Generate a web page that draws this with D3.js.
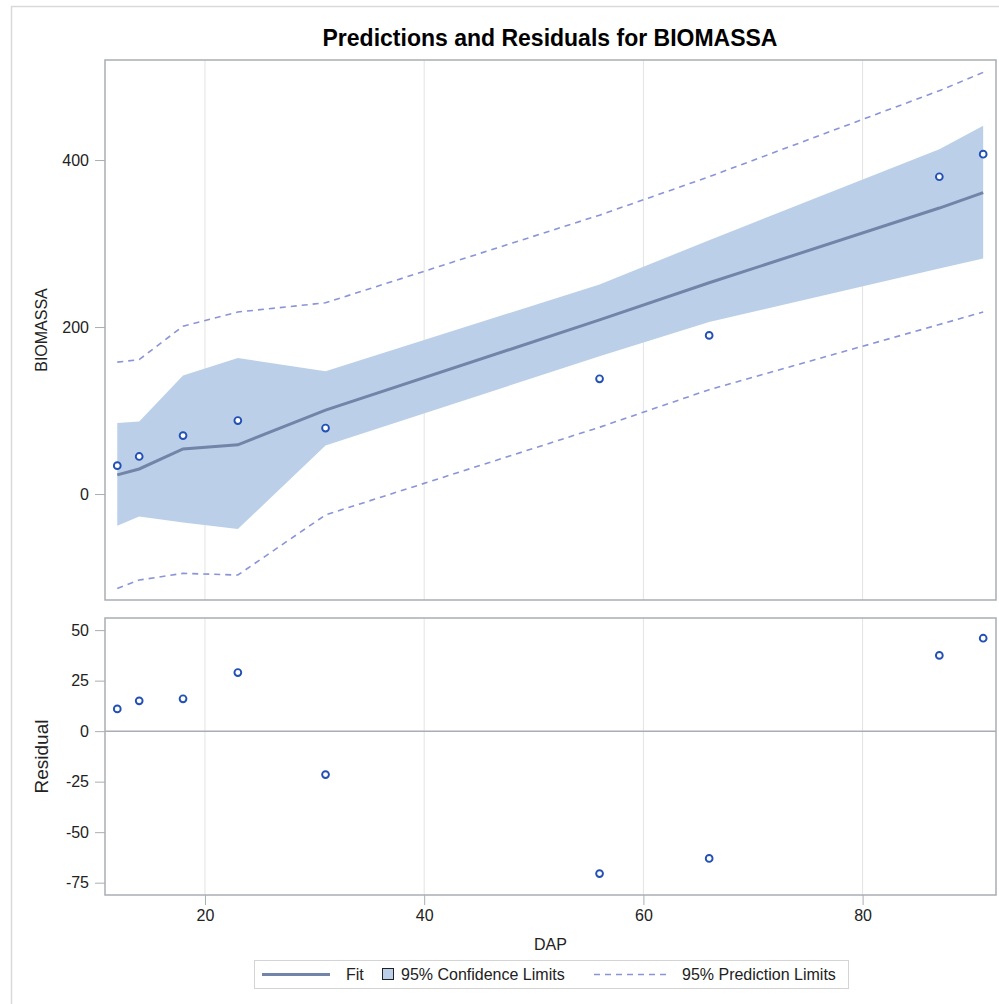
<!DOCTYPE html>
<html>
<head>
<meta charset="utf-8">
<script src="https://cdn.jsdelivr.net/npm/d3@7"></script>
<style type="text/css">
body { margin: 0; background: #fff; }
svg { font-family: "Liberation Sans", Arial, sans-serif; }
.axis path, .axis line { stroke: #a9aeb3; }
.axis text { fill: #222; font-size: 16px; }
.grid line { stroke: #e3e3e3; stroke-width: 1; }
.band { fill: #bbd0e8; stroke: none; }
.fitline { fill: none; stroke: #7384a9; stroke-width: 3; }
.plim { fill: none; stroke: #8a94d8; stroke-width: 1.6; stroke-dasharray: 6 5; }
.dot { fill: #fff; stroke: #2350b4; stroke-width: 1.9; }
.frame { fill: none; stroke: #a9aeb3; stroke-width: 1.5; }
.lbl { fill: #222; font-size: 16px; }
</style>
</head>
<body>
<script>
var dap      = [12, 14, 18, 23, 31, 56, 66, 87, 91];
var biomassa = [34, 45, 70, 88, 79, 138, 190, 380, 407];
var residual = [11, 15, 16, 29, -21.5, -70.5, -63, 37.5, 46];
var fit      = [23, 30, 54, 59, 100.5, 208.5, 253, 342.5, 361];
// 95% confidence limits (mean)
var lclm = [-38, -27, -34, -42, 58, 165, 206, 270, 282];
var uclm = [85, 87, 142, 163, 147, 251, 304, 413, 441];
// 95% prediction limits
var lcl = [-113, -103, -95, -97, -25, 80, 125, 203, 218];
var ucl = [158, 161, 201, 218, 229, 334, 380, 483, 505];

var xTicks = [20, 40, 60, 80];
var yTicks = [0, 200, 400];
var rTicks = [-75, -50, -25, 0, 25, 50];

var W = 999, H = 1004;
var left = 105, right = 996;
var top1 = 60, bot1 = 600;
var top2 = 618, bot2 = 895;

var svg = d3.select("body").append("svg")
    .attr("width", W)
    .attr("height", H);

// outer frame (cut off on right and bottom like the original)
svg.append("rect")
    .attr("x", 11.5).attr("y", 6.5)
    .attr("width", 1000).attr("height", 1010)
    .style("fill", "none").style("stroke", "#d9d9d9").style("stroke-width", 1.5);

var x = d3.scaleLinear().domain([10.88, 92.17]).range([left, right]);
var y = d3.scaleLinear().domain([-126.9, 519.8]).range([bot1, top1]);
var yr = d3.scaleLinear().domain([-81.1, 56]).range([bot2, top2]);

var fmt = function(d) { return String(d); }; // plain hyphen minus like SAS

var rows = dap.map(function(d, i) {
  return {x: d, obs: biomassa[i], res: residual[i], fit: fit[i],
          lclm: lclm[i], uclm: uclm[i], lcl: lcl[i], ucl: ucl[i]};
});

svg.append("text")
    .attr("x", 550).attr("y", 46)
    .attr("text-anchor", "middle")
    .style("font-size", "23px").style("font-weight", "bold").style("fill", "#000")
    .text("Predictions and Residuals for BIOMASSA");

// ---- top panel ----
var g1 = svg.append("g");
g1.append("g").attr("class", "grid")
  .selectAll("line").data(xTicks).enter().append("line")
    .attr("x1", function(d) { return x(d); }).attr("x2", function(d) { return x(d); })
    .attr("y1", top1).attr("y2", bot1);

g1.append("path").datum(rows).attr("class", "band")
    .attr("d", d3.area()
      .x(function(d) { return x(d.x); })
      .y0(function(d) { return y(d.lclm); })
      .y1(function(d) { return y(d.uclm); }));

g1.append("path").datum(rows).attr("class", "plim")
    .attr("d", d3.line().x(function(d) { return x(d.x); }).y(function(d) { return y(d.ucl); }));
g1.append("path").datum(rows).attr("class", "plim")
    .attr("d", d3.line().x(function(d) { return x(d.x); }).y(function(d) { return y(d.lcl); }));

g1.append("path").datum(rows).attr("class", "fitline")
    .attr("d", d3.line().x(function(d) { return x(d.x); }).y(function(d) { return y(d.fit); }));

g1.selectAll(".dot").data(rows).enter().append("circle")
    .attr("class", "dot")
    .attr("cx", function(d) { return x(d.x); })
    .attr("cy", function(d) { return y(d.obs); })
    .attr("r", 3.4);

g1.append("rect").attr("class", "frame")
    .attr("x", left).attr("y", top1).attr("width", right - left).attr("height", bot1 - top1);

g1.append("g").attr("class", "axis")
    .attr("transform", "translate(" + left + ",0)")
    .call(d3.axisLeft(y).tickValues(yTicks).tickFormat(fmt).tickSize(10).tickPadding(6).tickSizeOuter(0))
    .select(".domain").remove();

svg.append("text").attr("class", "lbl")
    .attr("transform", "translate(47," + ((top1 + bot1) / 2) + ") rotate(-90)")
    .attr("text-anchor", "middle")
    .text("BIOMASSA");

// ---- residual panel ----
var g2 = svg.append("g");
g2.append("g").attr("class", "grid")
  .selectAll("line").data(xTicks).enter().append("line")
    .attr("x1", function(d) { return x(d); }).attr("x2", function(d) { return x(d); })
    .attr("y1", top2).attr("y2", bot2);

g2.append("line")
    .attr("x1", left).attr("x2", right)
    .attr("y1", yr(0)).attr("y2", yr(0))
    .style("stroke", "#a9aeb3").style("stroke-width", 1.5);

g2.selectAll(".dot").data(rows).enter().append("circle")
    .attr("class", "dot")
    .attr("cx", function(d) { return x(d.x); })
    .attr("cy", function(d) { return yr(d.res); })
    .attr("r", 3.4);

g2.append("rect").attr("class", "frame")
    .attr("x", left).attr("y", top2).attr("width", right - left).attr("height", bot2 - top2);

g2.append("g").attr("class", "axis")
    .attr("transform", "translate(" + left + ",0)")
    .call(d3.axisLeft(yr).tickValues(rTicks).tickFormat(fmt).tickSize(10).tickPadding(6).tickSizeOuter(0))
    .select(".domain").remove();

g2.append("g").attr("class", "axis")
    .attr("transform", "translate(0," + bot2 + ")")
    .call(d3.axisBottom(x).tickValues(xTicks).tickFormat(fmt).tickSize(10).tickPadding(5).tickSizeOuter(0))
    .select(".domain").remove();

svg.append("text").attr("class", "lbl")
    .attr("transform", "translate(48," + ((top2 + bot2) / 2) + ") rotate(-90)")
    .attr("text-anchor", "middle")
    .style("font-size", "19px")
    .text("Residual");

svg.append("text").attr("class", "lbl")
    .attr("x", (left + right) / 2).attr("y", 950)
    .attr("text-anchor", "middle")
    .text("DAP");

// ---- legend ----
var lg = svg.append("g");
lg.append("rect")
    .attr("x", 254.5).attr("y", 960.5).attr("width", 594).attr("height", 28)
    .style("fill", "#fff").style("stroke", "#d4d4d4");
lg.append("line").attr("x1", 262).attr("x2", 330).attr("y1", 974.5).attr("y2", 974.5)
    .attr("class", "fitline");
lg.append("text").attr("class", "lbl").attr("x", 346).attr("y", 980).text("Fit");
lg.append("rect").attr("x", 382.5).attr("y", 968.5).attr("width", 11).attr("height", 11)
    .style("fill", "#bbd0e8").style("stroke", "#222");
lg.append("text").attr("class", "lbl").attr("x", 401).attr("y", 980).text("95% Confidence Limits");
lg.append("line").attr("x1", 594).attr("x2", 666).attr("y1", 974.5).attr("y2", 974.5)
    .attr("class", "plim");
lg.append("text").attr("class", "lbl").attr("x", 682).attr("y", 980).text("95% Prediction Limits");
</script>
</body>
</html>
